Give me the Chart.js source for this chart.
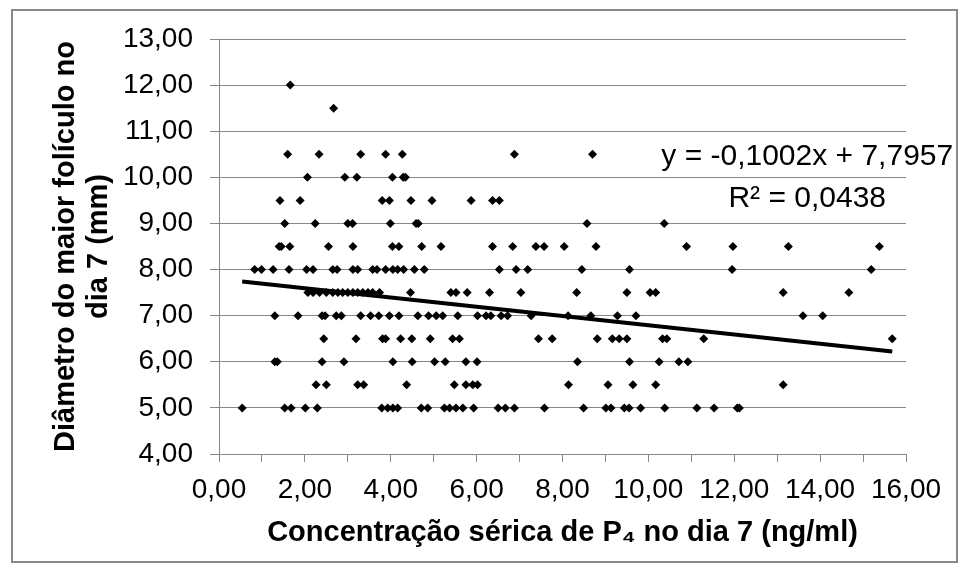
<!DOCTYPE html>
<html>
<head>
<meta charset="utf-8">
<script src="https://cdn.jsdelivr.net/npm/chart.js@4.4.1/dist/chart.umd.min.js"></script>
<style>
  html, body { margin: 0; padding: 0; background: #fff; }
  canvas { display: block; }
</style>
</head>
<body>
<canvas id="myChart" width="969" height="574"></canvas>
<script>
// P4 (ng/ml) readings for each follicle diameter level (mm)
const p4Dia5_0 = [0.54, 1.53, 1.68, 2.01, 2.29, 3.79, 3.93, 4.05, 4.16, 4.71, 4.86, 5.25, 5.37, 5.52, 5.68, 5.93, 6.50, 6.67, 6.88, 7.58, 8.49, 9.01, 9.13, 9.44, 9.55, 9.82, 10.38, 11.13, 11.53, 12.07, 12.12];
const p4Dia5_5 = [2.26, 2.50, 3.23, 3.37, 4.37, 5.48, 5.75, 5.91, 6.02, 8.14, 9.06, 9.64, 10.17, 13.14];
const p4Dia6_0 = [1.30, 1.36, 2.40, 2.91, 4.05, 4.50, 5.02, 5.27, 5.75, 6.01, 8.35, 9.56, 10.25, 10.71, 10.92];
const p4Dia6_5 = [2.44, 3.19, 3.81, 3.88, 4.23, 4.49, 4.92, 5.44, 5.60, 7.44, 7.76, 8.81, 9.16, 9.32, 9.50, 10.33, 10.43, 11.29, 15.68];
const p4Dia7_0 = [1.30, 1.84, 2.40, 2.47, 2.73, 2.85, 3.30, 3.53, 3.72, 3.97, 4.19, 4.63, 4.88, 5.06, 5.21, 5.56, 6.02, 6.22, 6.33, 6.57, 6.72, 7.27, 8.13, 8.66, 9.28, 9.71, 13.60, 14.06];
const p4Dia7_5 = [2.07, 2.19, 2.34, 2.50, 2.65, 2.77, 2.88, 3.00, 3.12, 3.23, 3.35, 3.47, 3.58, 3.74, 4.46, 5.40, 5.52, 5.78, 6.30, 7.03, 8.33, 9.50, 10.04, 10.17, 13.14, 14.67];
const p4Dia8_0 = [0.83, 0.99, 1.26, 1.63, 2.04, 2.19, 2.65, 2.75, 3.12, 3.23, 3.58, 3.68, 3.88, 4.05, 4.16, 4.30, 4.55, 4.78, 6.53, 6.92, 7.19, 8.45, 9.56, 11.95, 15.19];
const p4Dia8_5 = [1.40, 1.45, 1.65, 2.55, 3.12, 4.04, 4.19, 4.72, 5.17, 6.37, 6.84, 7.38, 7.57, 8.04, 8.78, 10.89, 11.97, 13.26, 15.38];
const p4Dia9_0 = [1.53, 2.24, 3.00, 3.11, 3.99, 4.59, 4.64, 8.57, 10.37];
const p4Dia9_5 = [1.42, 1.89, 3.80, 3.97, 4.47, 4.96, 5.87, 6.37, 6.53];
const p4Dia10_0 = [2.06, 2.93, 3.21, 4.04, 4.29, 4.34];
const p4Dia10_5 = [1.60, 2.33, 3.30, 3.88, 4.27, 6.88, 8.70];
const p4Dia11_5 = [2.67];
const p4Dia12_0 = [1.66];

const diameterLevels = [5, 5.5, 6, 6.5, 7, 7.5, 8, 8.5, 9, 9.5, 10, 10.5, 11.5, 12];
const p4ByLevel = [p4Dia5_0, p4Dia5_5, p4Dia6_0, p4Dia6_5, p4Dia7_0, p4Dia7_5, p4Dia8_0, p4Dia8_5, p4Dia9_0, p4Dia9_5, p4Dia10_0, p4Dia10_5, p4Dia11_5, p4Dia12_0];

// linear trendline (from the chart label)
const trendSlope = -0.1002;
const trendIntercept = 7.7957;
const trendR2 = 0.0438;

// axes
const xTicksMin = 0, xTicksMax = 16, xLabelStep = 2;
const yTicksMin = 4, yTicksMax = 13;
const xTitle = "Concentração sérica de P₄ no dia 7 (ng/ml)";
const yTitle = ["Diâmetro do maior folículo no", "dia 7 (mm)"];

const fmt = (v, d) => v.toFixed(d).replace(".", ",");

const points = [];
diameterLevels.forEach((d, i) => {
    p4ByLevel[i].forEach((p) => points.push({ x: p, y: d }));
});
const allX = points.map((p) => p.x);
const xMin = Math.min(...allX);
const xMax = Math.max(...allX);
const trendPoints = [xMin, xMax].map((x) => ({ x: x, y: trendSlope * x + trendIntercept }));

const FONT = "'Liberation Sans', Arial, sans-serif";
const GRAY = "#878787";

const framePlugin = {
    id: "frame",
    beforeDraw(chart) {
        const c = chart.ctx;
        c.save();
        c.fillStyle = "#fff";
        c.fillRect(0, 0, chart.width, chart.height);
        c.strokeStyle = "#8a8a8a";
        c.lineWidth = 2;
        c.strokeRect(12, 10, 945, 552);
        c.restore();
    },
};

const equationPlugin = {
    id: "equation",
    afterDatasetsDraw(chart) {
        const c = chart.ctx;
        const xs = chart.scales.x, ys = chart.scales.y;
        const cx = xs.getPixelForValue(13.7);
        c.save();
        c.font = "30px " + FONT;
        c.fillStyle = "#000";
        c.textAlign = "center";
        c.textBaseline = "middle";
        const sign = trendIntercept >= 0 ? "+" : "-";
        c.fillText("y = " + fmt(trendSlope, 4) + "x " + sign + " " + fmt(Math.abs(trendIntercept), 4), cx, ys.getPixelForValue(10.44));
        c.fillText("R² = " + fmt(trendR2, 4), cx, ys.getPixelForValue(9.53));
        c.restore();
    },
};

(function () {
    const ctx = document.getElementById("myChart");
    new Chart(ctx, {
        type: "scatter",
        data: {
            datasets: [
                {
                    type: "line",
                    data: trendPoints,
                    borderColor: "#000",
                    borderWidth: 4,
                    pointRadius: 0,
                    order: 0,
                },
                {
                    data: points,
                    pointStyle: "rectRot",
                    pointRadius: 4.5,
                    backgroundColor: "#000",
                    borderWidth: 0,
                    order: 1,
                },
            ],
        },
        options: {
            responsive: false,
            animation: false,
            devicePixelRatio: 1,
            layout: { padding: { left: 0, top: 39, right: 63, bottom: 0 } },
            plugins: { legend: { display: false }, tooltip: { enabled: false } },
            scales: {
                x: {
                    type: "linear",
                    position: "bottom",
                    min: xTicksMin,
                    max: xTicksMax,
                    afterFit: (s) => { s.height = 120; },
                    ticks: {
                        stepSize: 1,
                        autoSkip: false,
                        maxRotation: 0,
                        padding: 11,
                        color: "#000",
                        font: { family: FONT, size: 28 },
                        callback: (v) => (v % xLabelStep === 0 ? fmt(v, 2) : ""),
                    },
                    grid: { drawOnChartArea: false, drawTicks: true, tickLength: 8, color: GRAY },
                    border: { color: GRAY, width: 1 },
                    title: {
                        display: true,
                        text: xTitle,
                        color: "#000",
                        font: { family: FONT, size: 29, weight: "bold" },
                        padding: { top: 0, bottom: 24 },
                    },
                },
                y: {
                    min: yTicksMin,
                    max: yTicksMax,
                    afterFit: (s) => { s.width = 219; },
                    ticks: {
                        stepSize: 1,
                        padding: 17,
                        color: "#000",
                        font: { family: FONT, size: 28 },
                        callback: (v) => fmt(v, 2),
                    },
                    grid: { color: GRAY, tickLength: 9 },
                    border: { color: GRAY, width: 1 },
                    title: {
                        display: true,
                        text: yTitle,
                        color: "#000",
                        font: { family: FONT, size: 29, weight: "bold", lineHeight: 1.15 },
                        padding: { top: 49, bottom: 0 },
                    },
                },
            },
        },
        plugins: [framePlugin, equationPlugin],
    });
})();
</script>
</body>
</html>
